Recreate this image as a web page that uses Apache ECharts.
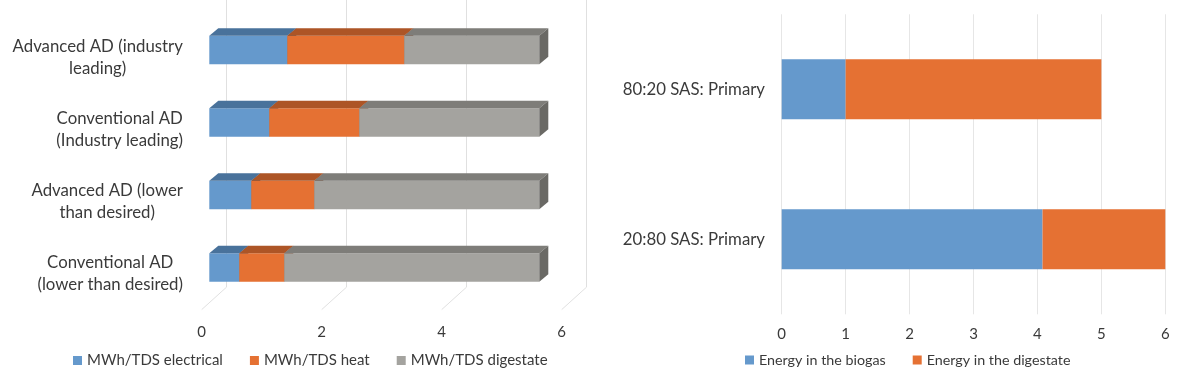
<!DOCTYPE html>
<html>
<head>
<meta charset="utf-8">
<script src="https://cdn.jsdelivr.net/npm/echarts@6/dist/echarts.min.js"></script>
<style>
html,body{margin:0;padding:0;background:#fff;}
#chart{width:1200px;height:384px;}
</style>
</head>
<body>
<div id="chart"></div>
<script>
// ---- data ----
const leftCategories = ['Advanced AD (industry\nleading)', 'Conventional AD\n(Industry leading)', 'Advanced AD (lower\nthan desired)', 'Conventional AD\n(lower than desired)'];
const electrical = [1.3, 1.0, 0.7, 0.5];
const heat = [1.95, 1.5, 1.05, 0.75];
const digestate = [2.25, 3.0, 3.75, 4.25];
const leftSeriesNames = ['MWh/TDS electrical', 'MWh/TDS heat', 'MWh/TDS digestate'];
const leftTicks = [0, 2, 4, 6];

const rightCategories = ['80:20 SAS: Primary', '20:80 SAS: Primary'];
const biogas = [1.0, 4.08];
const digestateEnergy = [4.0, 1.92];
const rightSeriesNames = ['Energy in the biogas', 'Energy in the digestate'];

// ---- styles ----
const FONT = 'Lato';
const TEXT = '#3a3a3a';
const CAT_SIZE = 16.8;
const faceColors = ['#6599CC', '#E57133', '#A4A39F'];
const topColors = ['#49729B', '#AD5526', '#7E7D79'];
const sideColors = ['#3F6488', '#8F4520', '#6A6965'];
const DX = 9, DY = -7.5;

const segs = [electrical, heat, digestate];
const cum = leftCategories.map(() => 0);
const segData = segs.map(arr => arr.map((v, i) => {
  const s = cum[i]; cum[i] += v; return [s, cum[i], i];
}));

// centred lines inside a right-aligned block (as in the reference)
const mctx = document.createElement('canvas').getContext('2d');
mctx.font = CAT_SIZE + 'px ' + FONT;
const rich = {};
leftCategories.forEach((c, i) => {
  const w = Math.max(...c.split('\n').map(l => mctx.measureText(l).width));
  rich['r' + i] = {width: Math.ceil(w) + 1, align: 'center', fontSize: CAT_SIZE, lineHeight: 21.7, fontFamily: FONT, color: TEXT};
});

function barRender(k) {
  return function (params, api) {
    const cat = api.value(2);
    const s = api.coord([api.value(0), cat]);
    const e = api.coord([api.value(1), cat]);
    const h = api.size([0, 1])[1] * 0.393;
    const x0 = s[0], x1 = e[0], y0 = s[1] - h / 2, y1 = s[1] + h / 2;
    return {
      type: 'group',
      children: [
        {type: 'rect', shape: {x: x0, y: y0, width: x1 - x0, height: h}, style: {fill: faceColors[k]}},
        {type: 'polygon', shape: {points: [[x0, y0], [x0 + DX, y0 + DY], [x1 + DX, y0 + DY], [x1, y0]]}, style: {fill: topColors[k]}},
        {type: 'polygon', shape: {points: [[x1, y0], [x1 + DX, y0 + DY], [x1 + DX, y1 + DY], [x1, y1]]}, style: {fill: sideColors[k]}}
      ]
    };
  };
}

function floorRender(params, api) {
  const x = api.coord([api.value(0), 0])[0];
  const yb = params.coordSys.y + params.coordSys.height;
  return {type: 'line', shape: {x1: x, y1: yb, x2: x - 25, y2: yb + 22.6}, style: {stroke: '#e0e0e0', lineWidth: 1}};
}

const chart = echarts.init(document.getElementById('chart'));
const option = {
  animation: false,
  textStyle: {fontFamily: FONT, color: TEXT},
  grid: [
    {left: 226.7, width: 360, top: 0, bottom: 97},          // back wall
    {left: 209.3, width: 360, top: 13.75, height: 290},     // bar front faces
    {left: 201.7, width: 360, top: 21.3, height: 288},      // floor front (labels)
    {left: 781.7, width: 383.6, top: 14.3, height: 300}     // right chart
  ],
  xAxis: [
    {gridIndex: 0, type: 'value', min: 0, max: 6, interval: 2, axisLine: {show: false}, axisTick: {show: false}, axisLabel: {show: false}, splitLine: {show: true, lineStyle: {color: '#e0e0e0', width: 1}}},
    {gridIndex: 1, type: 'value', min: 0, max: 6, show: false},
    {gridIndex: 2, type: 'value', min: 0, max: 6, interval: 2, axisLine: {show: false}, axisTick: {show: false}, splitLine: {show: false}, axisLabel: {margin: 15, fontSize: 15, fontFamily: FONT, color: TEXT}},
    {gridIndex: 3, type: 'value', min: 0, max: 6, interval: 1, axisLine: {show: false}, axisTick: {show: false}, splitLine: {show: true, lineStyle: {color: '#e6e6e6', width: 1}}, axisLabel: {margin: 12, fontSize: 15, fontFamily: FONT, color: TEXT}}
  ],
  yAxis: [
    {gridIndex: 0, type: 'category', data: leftCategories, inverse: true, show: false},
    {gridIndex: 1, type: 'category', data: leftCategories, inverse: true, show: false},
    {gridIndex: 2, type: 'category', data: leftCategories, inverse: true, axisLine: {show: false}, axisTick: {show: false},
      axisLabel: {margin: 18, align: 'right', rich: rich,
        formatter: (v, i) => v.split('\n').map(l => '{r' + i + '|' + l + '}').join('\n')}},
    {gridIndex: 3, type: 'category', data: rightCategories, inverse: true, axisLine: {show: false}, axisTick: {show: false}, axisLabel: {margin: 16.7, fontSize: CAT_SIZE, fontFamily: FONT, color: TEXT}}
  ],
  legend: [
    {left: 73, top: 353, padding: 0, itemWidth: 9, itemHeight: 9, itemGap: 27, icon: 'rect', textStyle: {fontSize: 15, fontFamily: FONT, color: TEXT}, data: leftSeriesNames},
    {left: 745, top: 353, padding: 0, itemWidth: 9, itemHeight: 9, itemGap: 27, icon: 'rect', textStyle: {fontSize: 14.3, fontFamily: FONT, color: TEXT}, data: rightSeriesNames}
  ],
  series: [
    {type: 'custom', name: 'floor', xAxisIndex: 0, yAxisIndex: 0, data: leftTicks.map(v => [v]), encode: {x: 0}, renderItem: floorRender, silent: true},
    ...leftSeriesNames.map((n, k) => ({
      type: 'custom', name: n, xAxisIndex: 1, yAxisIndex: 1, data: segData[k],
      encode: {x: [0, 1], y: 2}, itemStyle: {color: faceColors[k]}, renderItem: barRender(k)
    })),
    {type: 'bar', name: rightSeriesNames[0], xAxisIndex: 3, yAxisIndex: 3, stack: 'r', barWidth: 60, data: biogas, itemStyle: {color: faceColors[0]}},
    {type: 'bar', name: rightSeriesNames[1], xAxisIndex: 3, yAxisIndex: 3, stack: 'r', barWidth: 60, data: digestateEnergy, itemStyle: {color: faceColors[1]}}
  ]
};
chart.setOption(option);
</script>
</body>
</html>
